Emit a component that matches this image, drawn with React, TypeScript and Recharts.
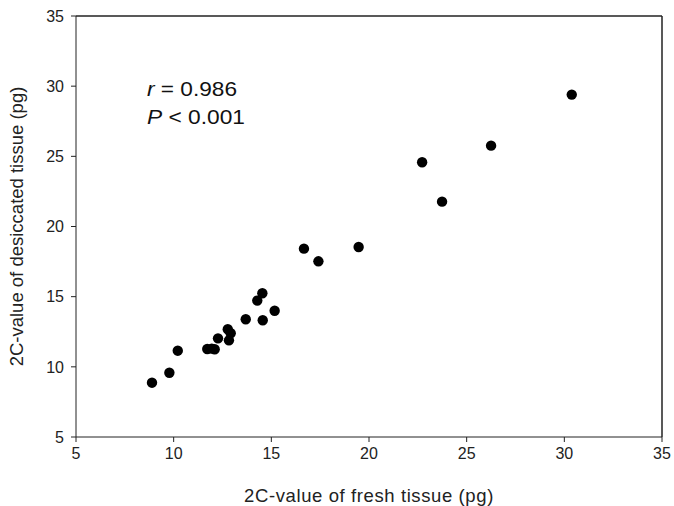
import React from 'react';
import { ScatterChart, Scatter, XAxis, YAxis, ReferenceLine, Label } from 'recharts';

// fresh vs desiccated 2C-values (pg)
const freshValues = [
  30.38, 26.25, 22.72, 23.74, 19.47, 16.67, 17.41, 14.54, 14.28, 15.17, 13.69, 14.56,
  12.77, 12.92, 12.83, 12.27, 11.72, 11.95, 12.1, 10.21, 9.78, 8.89,
];
const desiccatedValues = [
  29.4, 25.76, 24.58, 21.77, 18.54, 18.42, 17.52, 15.24, 14.72, 14.0, 13.39, 13.32,
  12.68, 12.39, 11.89, 12.03, 11.27, 11.3, 11.25, 11.15, 9.58, 8.87,
];
const axisTicks = [5, 10, 15, 20, 25, 30, 35];

const points = freshValues.map((x, i) => ({ x, y: desiccatedValues[i] }));

const FONT = 'Liberation Sans, Arial, sans-serif';

const Dot = (props: any) => {
  const { cx, cy } = props;
  return <circle cx={cx} cy={cy} r={5.2} fill="#000" />;
};

const App: React.FC = () => {
  return (
    <div style={{ position: 'fixed', left: 0, top: 0, width: 674, height: 506, background: '#fff' }}>
      <ScatterChart width={674} height={506} margin={{ top: 16, right: 12, left: 0, bottom: 0 }}>
        <XAxis
          type="number"
          dataKey="x"
          domain={[5, 35]}
          ticks={axisTicks}
          height={69}
          stroke="#222"
          tickSize={5}
          tickMargin={6}
          tick={{ fill: '#222', fontSize: 16, fontFamily: FONT }}
        >
          <Label
            value="2C-value of fresh tissue (pg)"
            position="insideBottom"
            offset={4}
            style={{ fill: '#222', fontSize: 18.5, fontFamily: FONT, letterSpacing: 0.6 }}
          />
        </XAxis>
        <YAxis
          type="number"
          dataKey="y"
          domain={[5, 35]}
          ticks={axisTicks}
          width={76}
          stroke="#222"
          tickSize={5}
          tickMargin={7}
          tick={{ fill: '#222', fontSize: 16, fontFamily: FONT }}
        >
          <Label
            value="2C-value of desiccated tissue (pg)"
            angle={-90}
            position="insideLeft"
            offset={16}
            style={{ textAnchor: 'middle', fill: '#222', fontSize: 18.5, fontFamily: FONT }}
          />
        </YAxis>
        <ReferenceLine y={35} stroke="#222" strokeWidth={1.5} />
        <ReferenceLine x={35} stroke="#222" strokeWidth={1.5} />
        <Scatter data={points} shape={<Dot />} isAnimationActive={false} />
        <text x={147} y={96} fontSize={20} fontFamily={FONT} fill="#111" textLength={90} lengthAdjust="spacingAndGlyphs">
          <tspan fontStyle="italic">r</tspan> = 0.986
        </text>
        <text x={147} y={124} fontSize={20} fontFamily={FONT} fill="#111" textLength={98} lengthAdjust="spacingAndGlyphs">
          <tspan fontStyle="italic">P</tspan> &lt; 0.001
        </text>
      </ScatterChart>
    </div>
  );
};

export default App;
